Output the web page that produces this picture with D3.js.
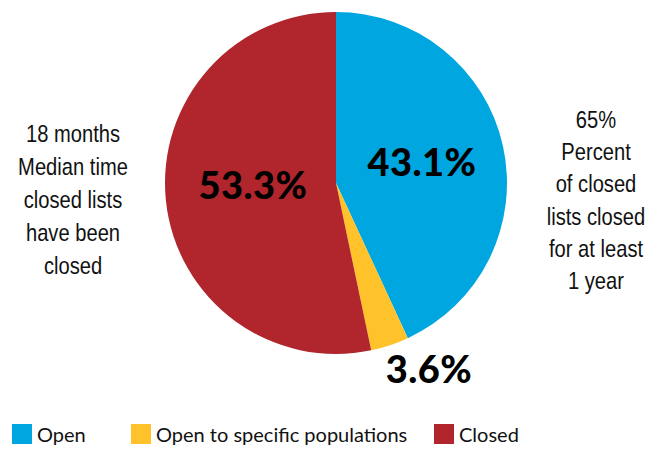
<!DOCTYPE html>
<html><head><meta charset="utf-8">
<script src="https://cdn.jsdelivr.net/npm/d3@7"></script>
<style>body{margin:0;background:#fff}svg{display:block}</style>
</head><body>
<svg id="c" width="650" height="450"></svg>
<script>
const categories = ["Open", "Open to specific populations", "Closed"];
const values = [43.1, 3.6, 53.3];
const colors = ["#00A6DF", "#FFC22B", "#B0262C"];
const leftNote = ["18 months", "Median time", "closed lists", "have been", "closed"];
const rightNote = ["65%", "Percent", "of closed", "lists closed", "for at least", "1 year"];

const svg = d3.select("#c");
const cx = 336, cy = 183, r = 171;
const pie = d3.pie().sort(null).value(d => d)(values);
const arc = d3.arc().innerRadius(0).outerRadius(r);
const g = svg.append("g").attr("transform", `translate(${cx},${cy})`);
g.selectAll("path").data(pie).join("path").attr("d", arc).attr("fill", (d, i) => colors[i]);

const labelPos = [[86, -22], [93, 185], [-83, 1]];
g.selectAll("text.v").data(pie).join("text")
  .attr("class", "v")
  .attr("text-anchor", "middle").attr("dominant-baseline", "central")
  .attr("font-family", "Lato, 'DejaVu Sans', sans-serif").attr("font-weight", 900)
  .attr("font-size", 38).attr("fill", "#000").attr("letter-spacing", 0.5)
  .attr("x", (d, i) => labelPos[i][0])
  .attr("y", (d, i) => labelPos[i][1])
  .text(d => d.value.toFixed(1) + "%");

const narrow = "'Liberation Sans', Arial, sans-serif";
function note(lines, x, y0, dy) {
  svg.append("g").attr("transform", `translate(${x},0) scale(0.84,1)`)
    .append("text").attr("font-family", narrow).attr("font-size", 24).attr("fill", "#111")
    .attr("text-anchor", "middle")
    .selectAll("tspan").data(lines).join("tspan")
    .attr("x", 0).attr("y", (d, i) => y0 + i * dy).text(d => d);
}
note(leftNote, 73, 142, 33);
note(rightNote, 596, 128, 32.2);

const legX = [12, 131, 434];
const leg = svg.append("g").selectAll("g").data(categories).join("g")
  .attr("transform", (d, i) => `translate(${legX[i]},424)`);
leg.append("rect").attr("width", 20).attr("height", 20).attr("fill", (d, i) => colors[i]);
leg.append("text").attr("x", 25).attr("y", 18)
  .attr("font-family", "Lato, 'Open Sans', sans-serif").attr("font-size", 20).attr("fill", "#111")
  .text(d => d);
</script>
</body></html>
